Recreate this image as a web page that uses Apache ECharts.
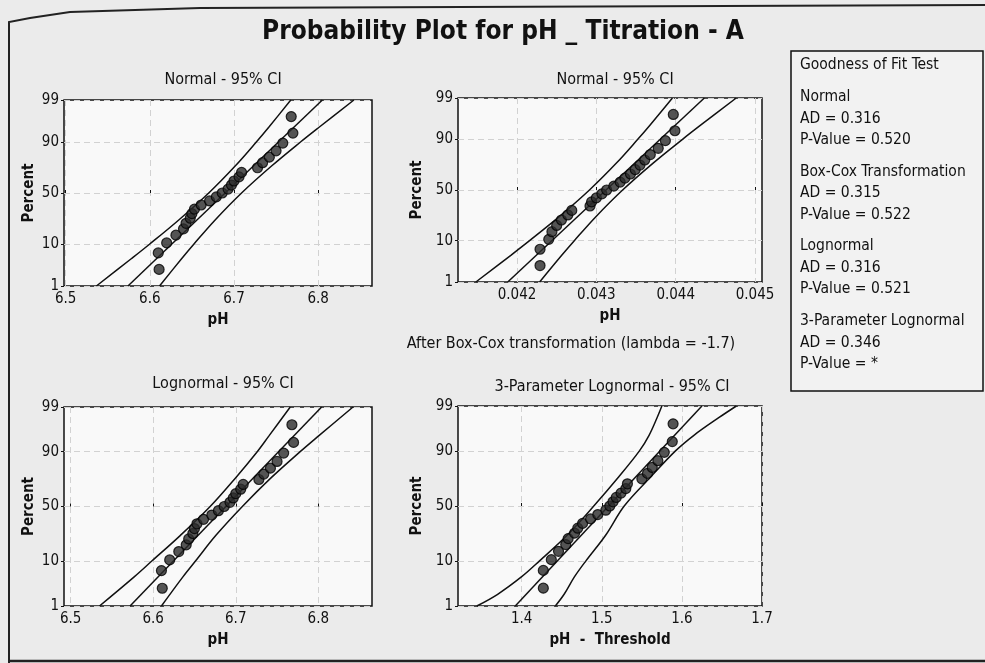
<!DOCTYPE html>
<html>
<head>
<meta charset="utf-8">
<script src="https://cdn.jsdelivr.net/npm/echarts@6/dist/echarts.min.js"></script>
<style>
  html, body { margin: 0; padding: 0; background: #ebebeb; }
  #chart { width: 985px; height: 663px; }
</style>
</head>
<body>
<div id="chart"></div>
<script>
// ---- data -------------------------------------------------------------
// plotting positions (percent) for the 25 ordered observations
const plotPercent = [2.8, 6.7, 10.6, 14.6, 18.5, 22.4, 26.4, 30.3, 34.3, 38.2, 42.1, 46.1, 50.0,
  53.9, 57.9, 61.8, 65.7, 69.7, 73.6, 77.6, 81.5, 85.4, 89.4, 93.3, 97.2];

// ordered pH measurements
const pH = [6.611, 6.610, 6.620, 6.631, 6.640, 6.643, 6.648, 6.650, 6.653, 6.661, 6.671, 6.679, 6.686,
  6.693, 6.697, 6.700, 6.706, 6.709, 6.728, 6.734, 6.742, 6.750, 6.758, 6.770, 6.768];

// ordered Box-Cox transformed values (lambda = -1.7)
const boxCox = [0.04229, 0.04229, 0.04240, 0.04244, 0.04250, 0.04256, 0.04264, 0.04269, 0.04292, 0.04294,
  0.04300, 0.04307, 0.04313, 0.04322, 0.04330, 0.04336, 0.04343, 0.04349, 0.04355, 0.04361,
  0.04368, 0.04378, 0.04387, 0.04399, 0.04397];

// ordered pH - threshold values
const phThreshold = [1.427, 1.427, 1.437, 1.446, 1.455, 1.458, 1.466, 1.470, 1.476, 1.486, 1.495, 1.505, 1.510,
  1.514, 1.518, 1.524, 1.530, 1.532, 1.550, 1.557, 1.563, 1.570, 1.578, 1.588, 1.589];

// fitted lines (x at 1% and 99%)
const fitPercent = [1, 99];
const normalFit = [6.574, 6.805];
const boxCoxFit = [0.041883, 0.044361];
const lognormalFit = [6.572, 6.804];
const threeParFit = [1.392, 1.625];

// 95% confidence bands
const ciPercent = [1, 5, 10, 25, 50, 75, 90, 95, 99];
const normalLower = [6.5365, 6.5779, 6.5996, 6.6344, 6.6700, 6.7014, 6.7268, 6.7413, 6.7675];
const normalUpper = [6.6115, 6.6377, 6.6522, 6.6776, 6.7090, 6.7446, 6.7794, 6.8011, 6.8425];
const boxCoxLower = [0.041481, 0.041926, 0.042158, 0.042532, 0.042913, 0.043250, 0.043522, 0.043678, 0.043959];
const boxCoxUpper = [0.042285, 0.042566, 0.042722, 0.042994, 0.043331, 0.043712, 0.044086, 0.044318, 0.044763];
const lognormalLower = [6.535, 6.577, 6.598, 6.633, 6.669, 6.700, 6.726, 6.740, 6.766];
const lognormalUpper = [6.610, 6.636, 6.651, 6.676, 6.708, 6.743, 6.778, 6.800, 6.842];

const ciPercent3 = [1, 2, 5, 10, 25, 50, 75, 90, 95, 98, 99];
const threeParLower = [1.344, 1.370, 1.400, 1.422, 1.457, 1.490, 1.521, 1.547, 1.559, 1.569, 1.575];
const threeParUpper = [1.442, 1.453, 1.466, 1.480, 1.505, 1.528, 1.561, 1.592, 1.615, 1.646, 1.668];

// tick labels
const percentTicks = [1, 10, 50, 90, 99];
const pHTicks = [6.5, 6.6, 6.7, 6.8];
const boxCoxTicks = [0.042, 0.043, 0.044, 0.045];
const thresholdTicks = [1.4, 1.5, 1.6, 1.7];

// goodness of fit results, one block per distribution
const gofHeader = 'Goodness of Fit Test';
const gofNames = ['Normal', 'Box-Cox Transformation', 'Lognormal', '3-Parameter Lognormal'];
const gofAD = ['0.316', '0.315', '0.316', '0.346'];
const gofP = ['0.520', '0.522', '0.521', '*'];

// ---- probability scale ----------------------------------------------
// inverse standard normal CDF (Acklam)
function probit(p) {
  const a = [-3.969683028665376e+01, 2.209460984245205e+02, -2.759285104469687e+02, 1.383577518672690e+02, -3.066479806614716e+01, 2.506628277459239e+00];
  const b = [-5.447609879822406e+01, 1.615858368580409e+02, -1.556989798598866e+02, 6.680131188771972e+01, -1.328068155288572e+01];
  const c = [-7.784894002430293e-03, -3.223964580411365e-01, -2.400758277161838e+00, -2.549732539343734e+00, 4.374664141464968e+00, 2.938163982698783e+00];
  const d = [7.784695709041462e-03, 3.224671290700398e-01, 2.445134137142996e+00, 3.754408661907416e+00];
  const pl = 0.02425;
  let q, r;
  if (p < pl) {
    q = Math.sqrt(-2 * Math.log(p));
    return (((((c[0]*q+c[1])*q+c[2])*q+c[3])*q+c[4])*q+c[5]) / ((((d[0]*q+d[1])*q+d[2])*q+d[3])*q+1);
  }
  if (p <= 1 - pl) {
    q = p - 0.5; r = q * q;
    return (((((a[0]*r+a[1])*r+a[2])*r+a[3])*r+a[4])*r+a[5])*q / (((((b[0]*r+b[1])*r+b[2])*r+b[3])*r+b[4])*r+1);
  }
  q = Math.sqrt(-2 * Math.log(1 - p));
  return -(((((c[0]*q+c[1])*q+c[2])*q+c[3])*q+c[4])*q+c[5]) / ((((d[0]*q+d[1])*q+d[2])*q+d[3])*q+1);
}
const z = pct => probit(pct / 100);
const pairs = (xs, pcts) => xs.map((x, i) => [x, z(pcts[i])]);

// ---- styling ------------------------------------------------------------
const FONT = "Tahoma, 'DejaVu Sans Condensed', 'DejaVu Sans', sans-serif";
const INK = '#111';
const gridLine = { show: true, lineStyle: { color: '#d2d2d2', width: 1, type: [6, 4] } };

const panels = [
  { box: { left: 64, top: 100, width: 308, height: 186 }, xr: [6.498, 6.864], ticks: pHTicks, xname: 'pH',
    pts: pH, fit: normalFit, lo: normalLower, hi: normalUpper, cip: ciPercent, dec: 1, ygap: 27 },
  { box: { left: 458, top: 98, width: 304, height: 184 }, xr: [0.041256, 0.045088], ticks: boxCoxTicks, xname: 'pH',
    pts: boxCox, fit: boxCoxFit, lo: boxCoxLower, hi: boxCoxUpper, cip: ciPercent, dec: 3, ygap: 33 },
  { box: { left: 64, top: 407, width: 308, height: 199 }, xr: [6.492, 6.865], ticks: pHTicks, xname: 'pH',
    pts: pH, fit: lognormalFit, lo: lognormalLower, hi: lognormalUpper, cip: ciPercent, dec: 1, ygap: 27 },
  { box: { left: 458, top: 406, width: 304, height: 200 }, xr: [1.3205, 1.70], ticks: thresholdTicks, xname: 'pH  -  Threshold',
    pts: phThreshold, fit: threeParFit, lo: threeParLower, hi: threeParUpper, cip: ciPercent3, dec: 1, ygap: 33 }
];

const zMin = z(1), zMax = z(99);
const percentLabel = v => {
  const p = percentTicks.find(t => Math.abs(z(t) - v) < 1e-6);
  return p === undefined ? '' : String(p);
};

const grid = [], xAxis = [], yAxis = [], series = [];
panels.forEach((p, i) => {
  grid.push(Object.assign({ show: true, backgroundColor: '#f9f9f9', borderColor: INK, borderWidth: 1.5 }, p.box));
  xAxis.push({
    type: 'value', gridIndex: i, min: p.xr[0], max: p.xr[1],
    name: p.xname, nameLocation: 'middle', nameGap: 27,
    nameTextStyle: { fontFamily: FONT, fontSize: 15, fontWeight: 'bold', color: INK },
    axisLine: { show: false },
    axisTick: { show: true, customValues: p.ticks, length: 3, inside: true, lineStyle: { color: INK } },
    axisLabel: { customValues: p.ticks, fontFamily: FONT, fontSize: 15, color: INK, margin: 6,
      formatter: v => v.toFixed(p.dec) },
    splitLine: gridLine
  });
  yAxis.push({
    type: 'value', gridIndex: i, min: zMin, max: zMax,
    name: 'Percent', nameLocation: 'middle', nameGap: p.ygap, nameRotate: 90,
    nameTextStyle: { fontFamily: FONT, fontSize: 15, fontWeight: 'bold', color: INK },
    axisLine: { show: false },
    axisTick: { show: true, customValues: percentTicks.map(z), length: 3, lineStyle: { color: INK } },
    axisLabel: { customValues: percentTicks.map(z), fontFamily: FONT, fontSize: 15, color: INK, margin: 5,
      formatter: percentLabel },
    splitLine: gridLine
  });
  const lineStyle = { color: INK, width: 1.5 };
  series.push(
    { type: 'line', xAxisIndex: i, yAxisIndex: i, data: pairs(p.lo, p.cip), smooth: 0.35, showSymbol: false, lineStyle, silent: true },
    { type: 'line', xAxisIndex: i, yAxisIndex: i, data: pairs(p.hi, p.cip), smooth: 0.35, showSymbol: false, lineStyle, silent: true },
    { type: 'line', xAxisIndex: i, yAxisIndex: i, data: pairs(p.fit, fitPercent), showSymbol: false, lineStyle, silent: true },
    { type: 'scatter', xAxisIndex: i, yAxisIndex: i, data: pairs(p.pts, plotPercent), symbolSize: 10,
      itemStyle: { color: '#2a2a2a', borderColor: '#000', borderWidth: 1.2 }, silent: true, z: 5 }
  );
});

const subTitle = (text, x, y) => ({ text, left: x, top: y, textAlign: 'center',
  textStyle: { fontFamily: FONT, fontSize: 16, fontWeight: 'normal', color: INK } });

const title = [
  { text: 'Probability Plot for pH _ Titration - A', left: 498, top: 14, textAlign: 'center',
    textStyle: { fontFamily: FONT, fontSize: 26, fontWeight: 'bold', color: INK } },
  subTitle('Normal - 95% CI', 218, 67),
  subTitle('Normal - 95% CI', 610, 67),
  subTitle('After Box-Cox transformation (lambda = -1.7)', 566, 331),
  subTitle('Lognormal - 95% CI', 218, 371),
  subTitle('3-Parameter Lognormal - 95% CI', 607, 374)
];

// goodness-of-fit box
const gofChildren = [{ type: 'rect', shape: { x: 0, y: 0, width: 192, height: 340 },
  style: { fill: '#f2f2f2', stroke: INK, lineWidth: 1.5 } }];
const gofText = (text, y) => ({ type: 'text', x: 9, y,
  style: { text, fontFamily: FONT, fontSize: 15.5, fill: INK, textVerticalAlign: 'middle' } });
gofChildren.push(gofText(gofHeader, 14));
gofNames.forEach((name, k) => {
  const y0 = 46 + k * 74.7;
  gofChildren.push(gofText(name, y0), gofText('AD = ' + gofAD[k], y0 + 21.5), gofText('P-Value = ' + gofP[k], y0 + 43));
});

const option = {
  backgroundColor: '#ebebeb',
  animation: false,
  title, grid, xAxis, yAxis, series,
  graphic: [
    // page frame
    { type: 'polyline', shape: { points: [[9, 663], [9, 22], [30, 18], [70, 12], [200, 8], [985, 5]] },
      style: { stroke: '#222', lineWidth: 2, fill: null } },
    { type: 'line', shape: { x1: 9, y1: 661, x2: 985, y2: 661 }, style: { stroke: '#222', lineWidth: 2.5 } },
    { type: 'group', x: 791, y: 51, children: gofChildren }
  ]
};

const chart = echarts.init(document.getElementById('chart'), null, { renderer: 'canvas' });
chart.setOption(option);
</script>
</body>
</html>
